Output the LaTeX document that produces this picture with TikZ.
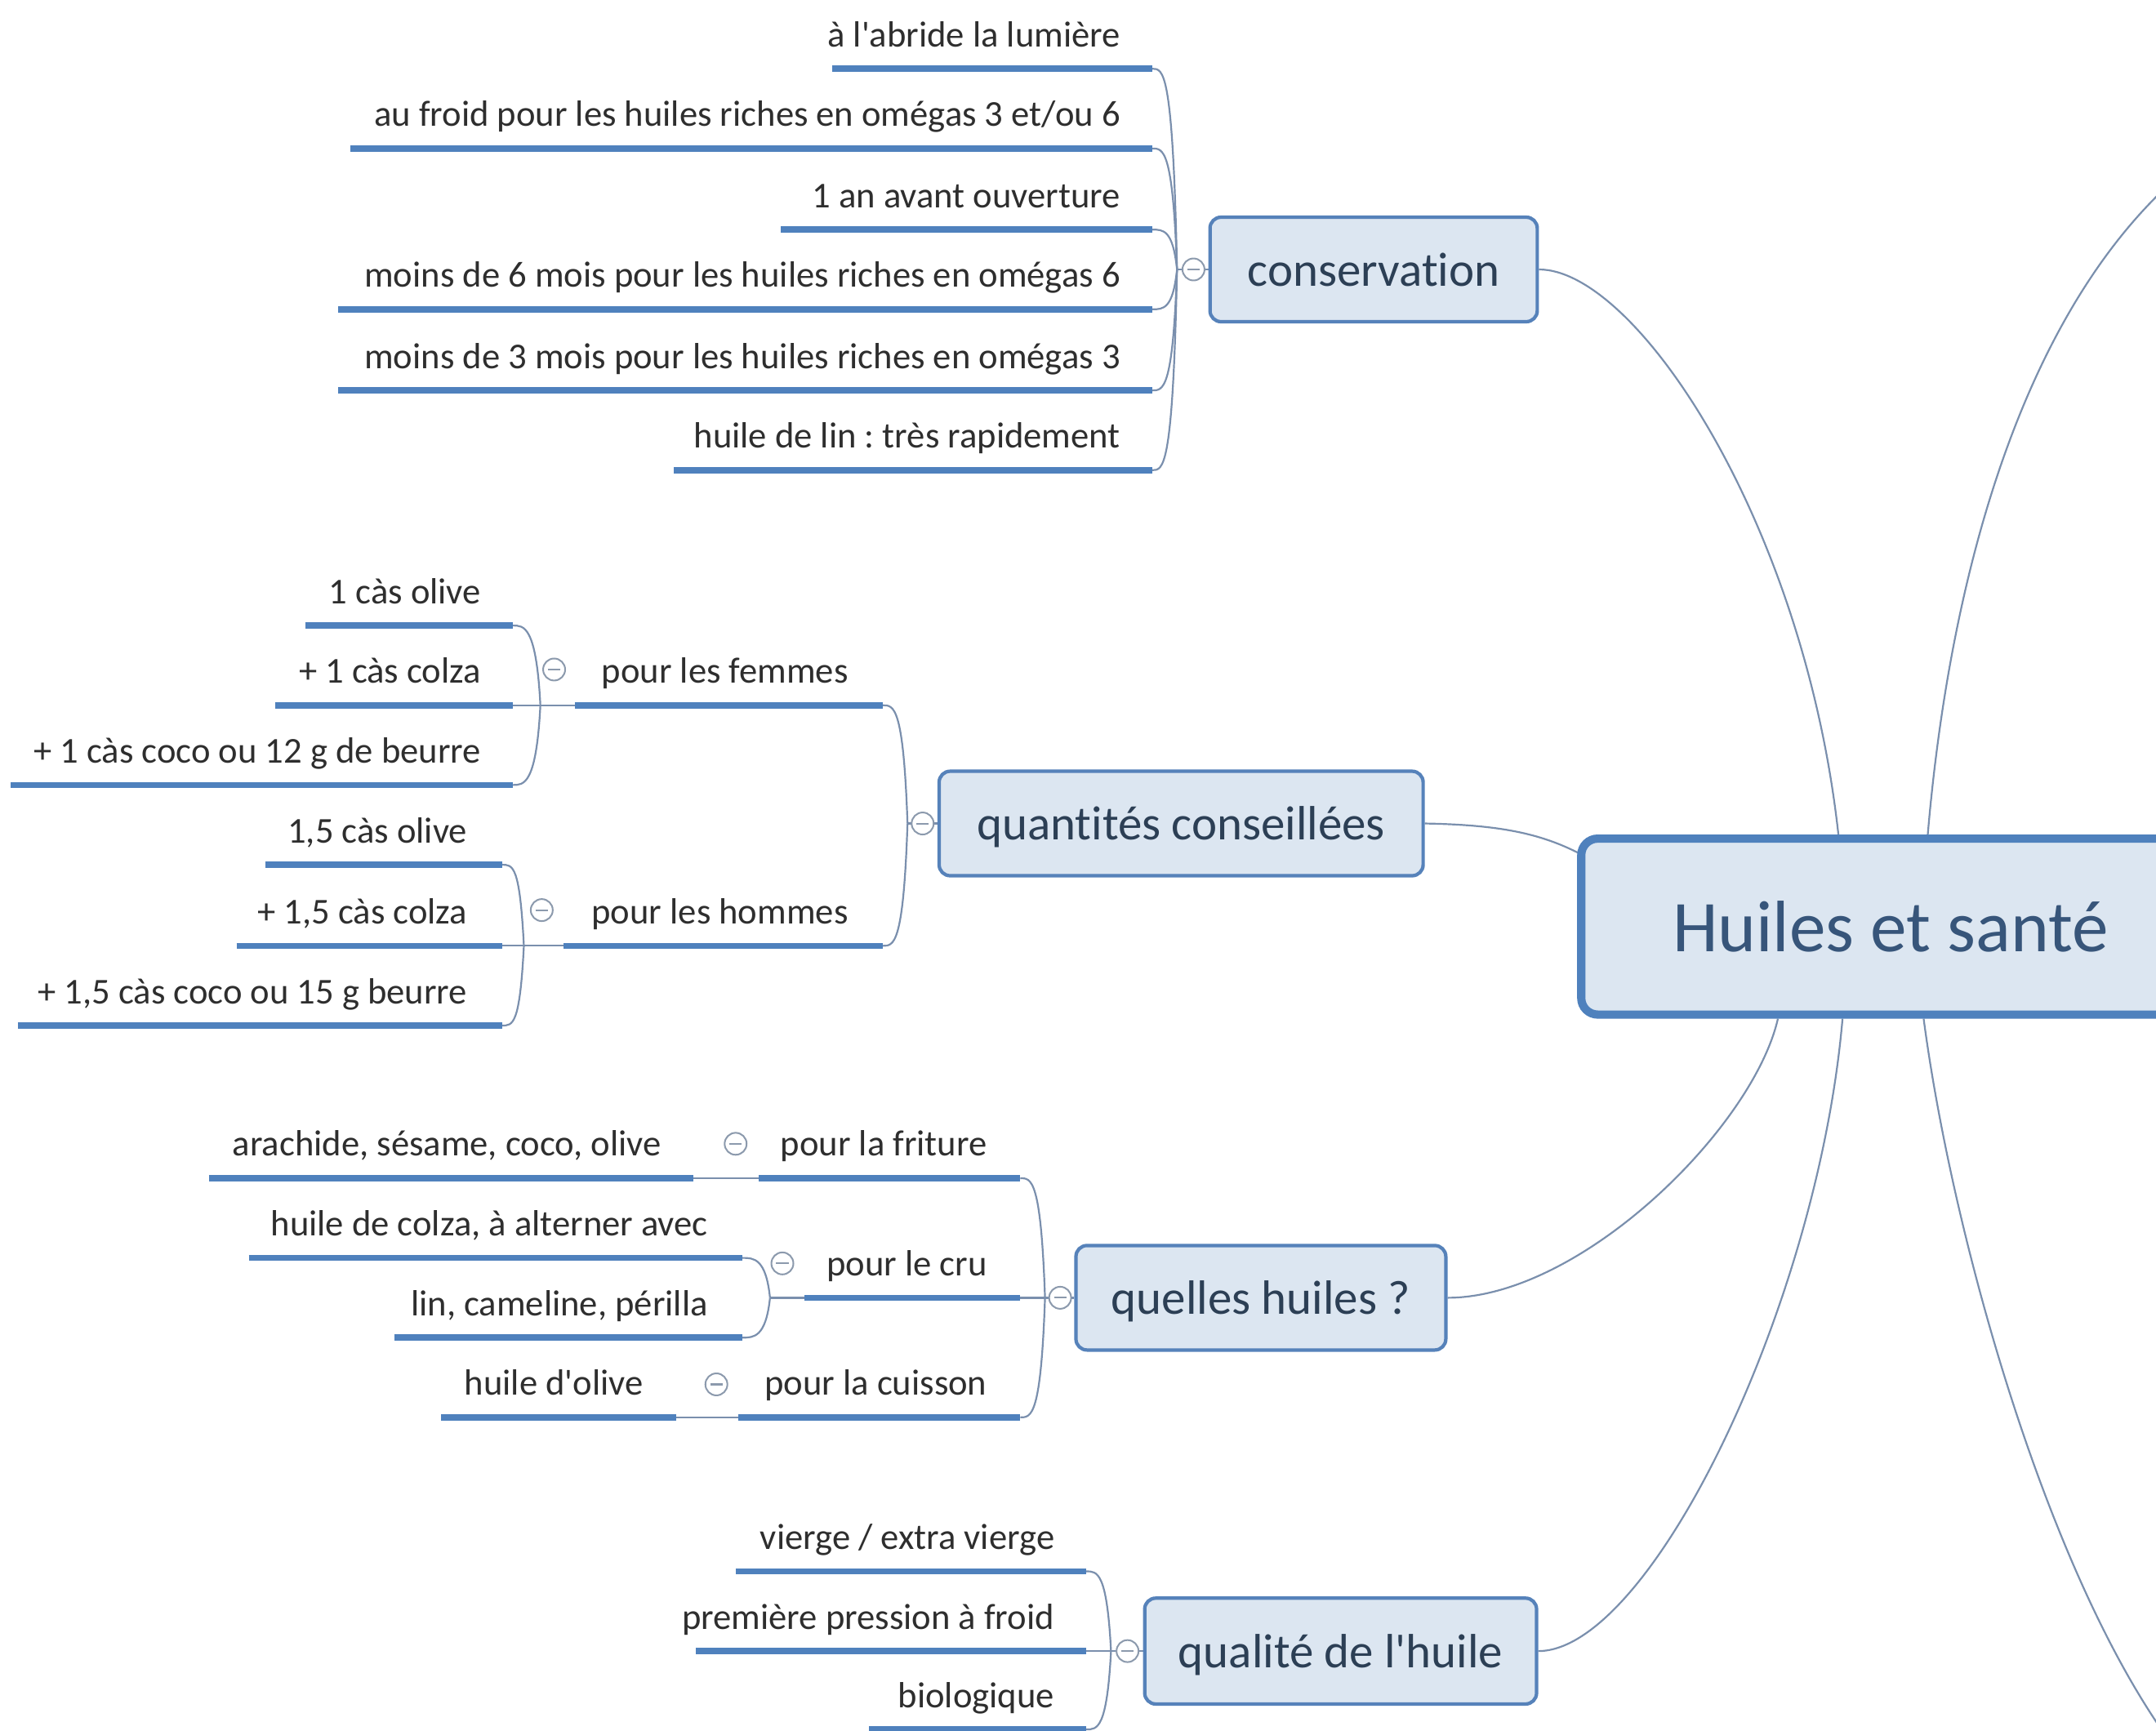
\documentclass[tikz,border=0pt]{standalone}
\usepackage{fontspec}
\setmainfont{Carlito}[RawFeature={-liga;-clig;-calt}]
\usetikzlibrary{calc,backgrounds}
\frenchspacing
\definecolor{barblue}{HTML}{4F81BD}
\definecolor{connc}{HTML}{7A8FAD}
\definecolor{boxfill}{HTML}{DCE6F1}
\definecolor{boxline}{HTML}{5682BA}
\definecolor{leaftext}{HTML}{2E2E2E}
\definecolor{boxtext}{HTML}{2C3F55}
\definecolor{roottext}{HTML}{37557A}
\definecolor{btn}{HTML}{8C9AAD}

\newcommand\leafitem[6]{%
  \node[leaf] (#1) at (#2,#3-16) {#6};
  \coordinate (#1e) at (#5,#3);
  \coordinate (#1s) at (#4,#3);
  \draw[bar] (#1s) -- (#1e);
}
\newcommand\mmlink[2]{%
  \draw[conn] let \p1=(#1), \p2=(#2) in (\p1) .. controls (\x1-3pt,\y2) and (\x2+8pt,\y2) .. (\p2);
}

\begin{document}
\begin{tikzpicture}[x=1pt,y=-1pt,
  leaf/.style={anchor=base east, inner sep=0pt, text=leaftext, font=\fontsize{26.5}{30}\selectfont\frenchspacing},
  bar/.style={draw=barblue, line width=4.5pt},
  conn/.style={draw=connc, line width=1.3pt},
  topic/.style={rounded corners=8pt, draw=boxline, line width=2.5pt, fill=boxfill, text=boxtext,
    font=\fontsize{35}{40}\selectfont, text height=30pt, text depth=6pt, inner sep=0pt},
  rootbox/.style={rounded corners=12pt, draw=barblue, line width=6pt, fill=boxfill, text=roottext,
    font=\fontsize{53}{60}\selectfont, text height=46pt, text depth=10pt, inner sep=0pt,
    minimum width=450pt, minimum height=128pt},
  btnc/.style={circle, draw=btn, line width=1.2pt, fill=white, minimum size=16pt, inner sep=0pt,
    path picture={\draw[btn, line width=1.2pt] ([xshift=-4.5pt]path picture bounding box.center) -- ([xshift=4.5pt]path picture bounding box.center);}},
]
\useasboundingbox (0,0) rectangle (1568,1259);

% ---------- topics ----------
\node[topic, minimum width=238pt, minimum height=76pt] (cons) at (999,196) {conservation};
\node[topic, minimum width=352pt, minimum height=76pt] (quant) at (859,599) {quantités conseillées};
\node[topic, minimum width=269pt, minimum height=76pt] (quel) at (917,944) {quelles huiles ?};
\node[topic, minimum width=285pt, minimum height=77pt] (qual) at (975,1201) {qualité de l\textquotesingle huile};
\node[rootbox] (root) at (1375,674) {Huiles et santé};

% ---------- conservation ----------
\leafitem{c1}{815}{50}{605}{838}{à l\textquotesingle abride la lumière}
\leafitem{c2}{815}{108}{255}{838}{au froid pour les huiles riches en omégas 3 et/ou 6}
\leafitem{c3}{815}{167}{568}{838}{1 an avant ouverture}
\leafitem{c4}{815}{225}{246}{838}{moins de 6 mois pour les huiles riches en omégas 6}
\leafitem{c5}{815}{284}{246}{838}{moins de 3 mois pour les huiles riches en omégas 3}
\leafitem{c6}{815}{342}{490}{838}{huile de lin : très rapidement}

% ---------- quantités ----------
\leafitem{f}{617}{513}{418}{642}{pour les femmes}
\leafitem{h}{617}{688}{410}{642}{pour les hommes}
\leafitem{fa}{350}{455}{222}{373}{1 càs olive}
\leafitem{fb}{350}{513}{200}{373}{+ 1 càs colza}
\leafitem{fc}{350}{571}{8}{373}{+ 1 càs coco ou 12 g de beurre}
\leafitem{ha}{340}{629}{193}{365}{1,5 càs olive}
\leafitem{hb}{340}{688}{172}{365}{+ 1,5 càs colza}
\leafitem{hc}{340}{746}{13}{365}{+ 1,5 càs coco ou 15 g beurre}

% ---------- quelles huiles ----------
\leafitem{qa}{718}{857}{552}{742}{pour la friture}
\leafitem{qb}{718}{944}{585}{742}{pour le cru}
\leafitem{qc}{718}{1031}{537}{742}{pour la cuisson}
\leafitem{ar}{481}{857}{152}{504}{arachide, sésame, coco, olive}
\leafitem{ra}{515}{915}{181}{540}{huile de colza, à alterner avec}
\leafitem{rb}{515}{973}{287}{540}{lin, cameline, périlla}
\leafitem{ol}{468}{1031}{321}{492}{huile d\textquotesingle olive}

% ---------- qualité ----------
\leafitem{va}{767}{1143}{535}{790}{vierge / extra vierge}
\leafitem{vb}{767}{1201}{506}{790}{première pression à froid}
\leafitem{vc}{767}{1258}{632}{790}{biologique}

% ---------- junctions ----------
\coordinate (cJ) at (856,196);
\coordinate (qJ) at (660,599);
\coordinate (fJ) at (393,513);
\coordinate (hJ) at (381,688);
\coordinate (uJ) at (760,944);
\coordinate (rJ) at (560,944);
\coordinate (aJ) at (808,1201);

\coordinate (rt1) at ($(root.north west)+(190,0)$);
\coordinate (rt2) at ($(root.north west)+(255,0)$);
\coordinate (rb1) at ($(root.south west)+(146,0)$);
\coordinate (rb2) at ($(root.south west)+(193,0)$);
\coordinate (rb3) at ($(root.south west)+(252,0)$);
\coordinate (rl) at ($(root.north west)+(2,14)$);
\coordinate (offtop) at (1582,130);
\coordinate (offbot) at (1582,1272);

\begin{pgfonlayer}{background}
  \fill[white] (0,0) rectangle (1568,1259);
  % conservation
  \draw[conn] (cJ) -- (cons.west);
  \foreach \k in {c1,c2,c3,c4,c5,c6} {\mmlink{cJ}{\k e}}
  % quantités
  \draw[conn] (qJ) -- (quant.west);
  \mmlink{qJ}{fe}
  \mmlink{qJ}{he}
  \draw[conn] (fJ) -- (fs);
  \foreach \k in {fa,fb,fc} {\mmlink{fJ}{\k e}}
  \draw[conn] (hJ) -- (hs);
  \foreach \k in {ha,hb,hc} {\mmlink{hJ}{\k e}}
  % quelles huiles
  \draw[conn] (uJ) -- (quel.west);
  \foreach \k in {qa,qb,qc} {\mmlink{uJ}{\k e}}
  \draw[conn] (are) -- (qas);
  \draw[conn] (rJ) -- (qbs);
  \mmlink{rJ}{rae}
  \mmlink{rJ}{rbe}
  \draw[conn] (ole) -- (qcs);
  % qualité
  \draw[conn] (aJ) -- (qual.west);
  \foreach \k in {va,vb,vc} {\mmlink{aJ}{\k e}}
  % root links
  \draw[conn] (cons.east) .. controls (1190,196) and (1312,380) .. (rt1);
  \draw[conn] (quant.east) .. controls (1090,600) and (1120,606) .. (rl);
  \draw[conn] (quel.east) .. controls (1150,944) and (1275,820) .. (rb1);
  \draw[conn] (qual.east) .. controls (1200,1201) and (1322,950) .. (rb2);
  \draw[conn] (rt2) .. controls (1418,420) and (1470,230) .. (offtop);
  \draw[conn] (rb3) .. controls (1420,900) and (1490,1150) .. (offbot);
\end{pgfonlayer}

% ---------- collapse buttons ----------
\node[btnc] (bc) at (868,196) {};
\node[btnc] (bq) at (671,599) {};
\node[btnc] (bf) at (403,487) {};
\node[btnc] (bh) at (394,662) {};
\node[btnc] (bu) at (771,944) {};
\node[btnc] (bfr) at (535,832) {};
\node[btnc] (bcr) at (569,919) {};
\node[btnc] (bcu) at (521,1007) {};
\node[btnc] (ba) at (820,1201) {};
\end{tikzpicture}
\end{document}
